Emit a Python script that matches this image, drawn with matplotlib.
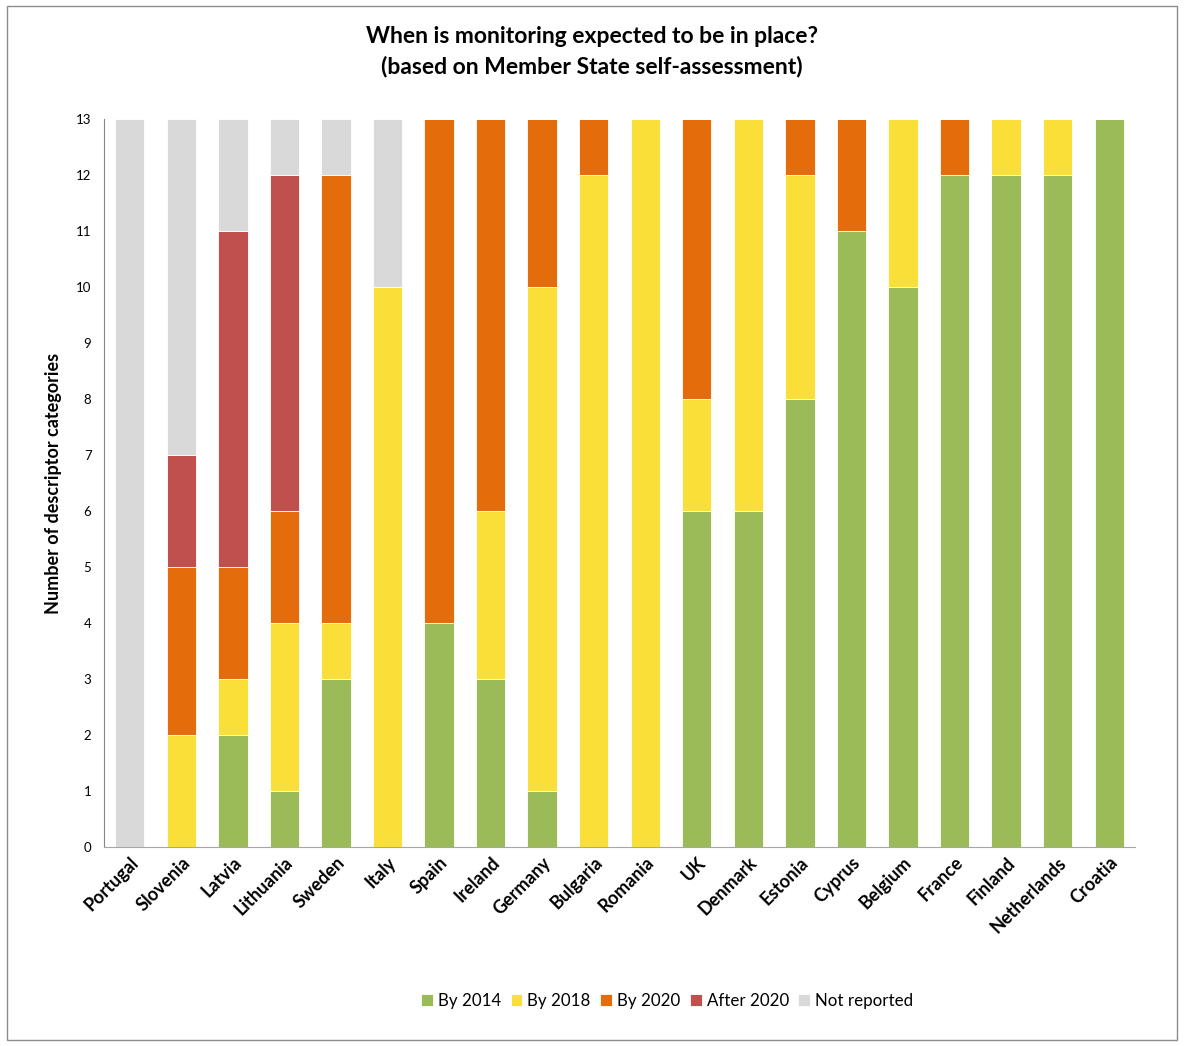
import matplotlib
matplotlib.use("Agg")
import matplotlib.pyplot as plt
import numpy as np
from matplotlib.patches import Rectangle

countries = ["Portugal", "Slovenia", "Latvia", "Lithuania", "Sweden", "Italy", "Spain",
             "Ireland", "Germany", "Bulgaria", "Romania", "UK", "Denmark", "Estonia",
             "Cyprus", "Belgium", "France", "Finland", "Netherlands", "Croatia"]
by_2014 = [0, 0, 2, 1, 3, 0, 4, 3, 1, 0, 0, 6, 6, 8, 11, 10, 12, 12, 12, 13]
by_2018 = [0, 2, 1, 3, 1, 10, 0, 3, 9, 12, 13, 2, 7, 4, 0, 3, 0, 1, 1, 0]
by_2020 = [0, 3, 2, 2, 8, 0, 9, 7, 3, 1, 0, 5, 0, 1, 2, 0, 1, 0, 0, 0]
after_2020 = [0, 2, 6, 6, 0, 0, 0, 0, 0, 0, 0, 0, 0, 0, 0, 0, 0, 0, 0, 0]
not_reported = [13, 6, 2, 1, 1, 3, 0, 0, 0, 0, 0, 0, 0, 0, 0, 0, 0, 0, 0, 0]

series = [("By 2014", by_2014, "#9BBB59"),
          ("By 2018", by_2018, "#F9DF38"),
          ("By 2020", by_2020, "#E46C0A"),
          ("After 2020", after_2020, "#C0504D"),
          ("Not reported", not_reported, "#D9D9D9")]

plt.rcParams["font.family"] = ["Lato", "DejaVu Sans"]

fig = plt.figure(figsize=(11.84, 10.46), dpi=100)
ax = fig.add_axes([0.0878, 0.1903, 0.8708, 0.6959])

x = np.arange(len(countries))
bottom = np.zeros(len(countries))
for name, vals, col in series:
    vals = np.array(vals, dtype=float)
    ax.bar(x, vals, 0.57, bottom=bottom, color=col, label=name,
           edgecolor="white", linewidth=0.6)
    bottom += vals

ax.set_xlim(-0.5, len(countries) - 0.5)
ax.set_ylim(0, 13)
ax.set_yticks(range(0, 14))
ax.tick_params(axis="y", length=0, labelsize=9.5, pad=9)
ax.tick_params(axis="x", length=0, pad=5)
ax.set_xticks(x)
ax.set_xticklabels(countries, rotation=45, ha="right", rotation_mode="anchor",
                   fontsize=13, fontweight="bold")
for s in ["top", "right"]:
    ax.spines[s].set_visible(False)
ax.spines["left"].set_color("#868686")
ax.spines["bottom"].set_color("#A6A6A6")

ax.set_ylabel("Number of descriptor categories", fontsize=13, fontweight="bold", labelpad=10)

fig.text(0.5, 0.975, "When is monitoring expected to be in place?\n(based on Member State self-assessment)",
         ha="center", va="top", fontsize=16.5, fontweight="bold", linespacing=1.5)

fig.legend(loc="center", bbox_to_anchor=(0.5635, 0.043), ncol=5, frameon=False,
           fontsize=12.2, handlelength=0.7, handleheight=0.7, handletextpad=0.3,
           columnspacing=0.55)

fig.patches.append(Rectangle((0.006, 0.006), 0.988, 0.988, transform=fig.transFigure,
                             fill=False, edgecolor="#8c8c8c", linewidth=1))

fig.savefig("out.png", dpi=100)
